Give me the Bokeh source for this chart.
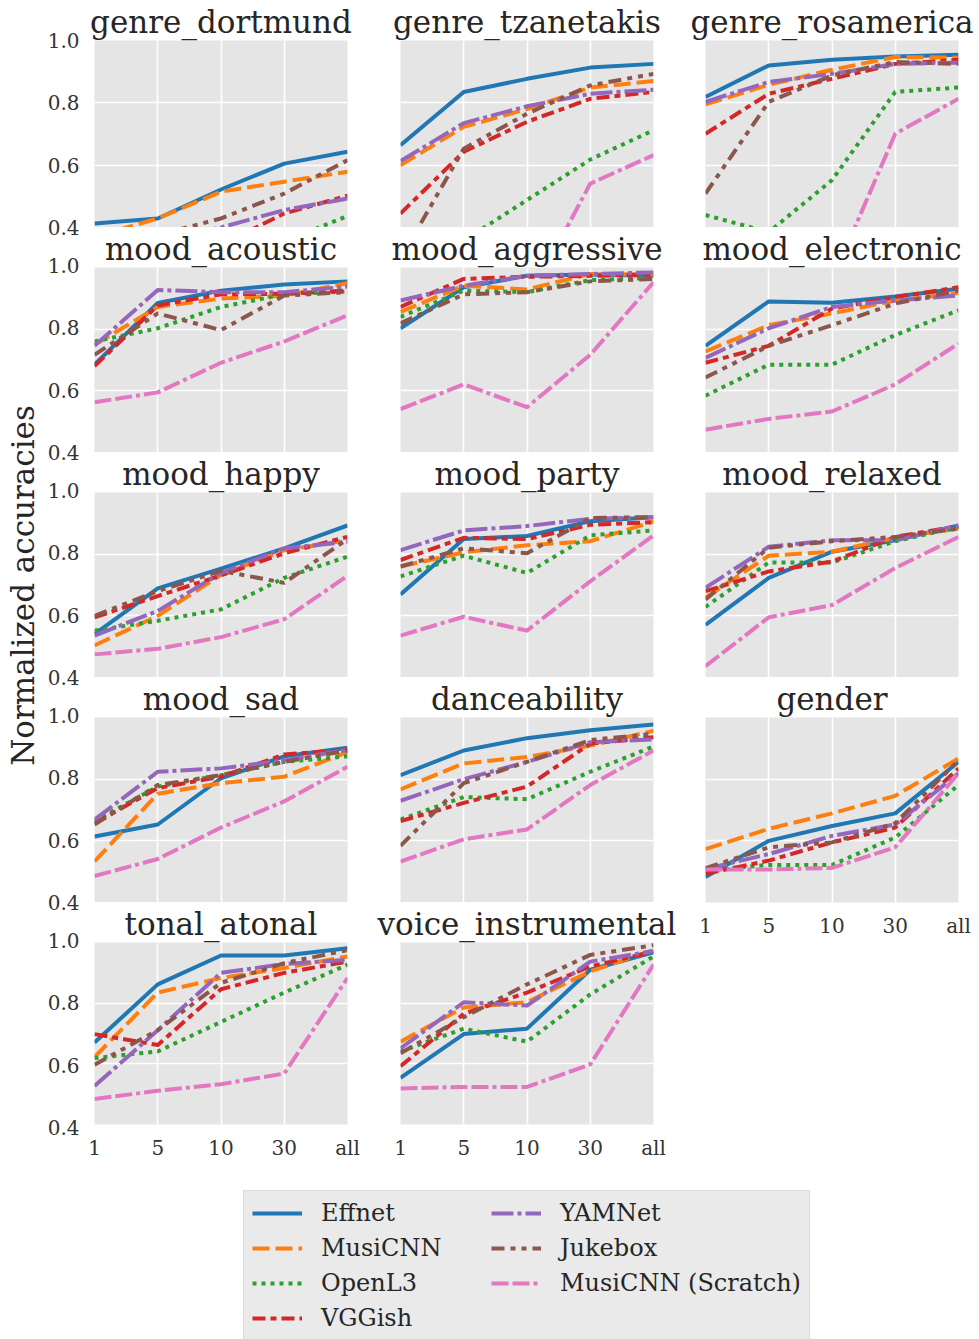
from math import pi
from bokeh.plotting import figure
from bokeh.models import Range1d, FixedTicker, Label, Legend, LegendItem
from bokeh.layouts import row, column
from bokeh.embed import file_html
from bokeh.resources import INLINE

x_labels = ["1", "5", "10", "30", "all"]
models = ["Effnet", "MusiCNN", "OpenL3", "VGGish", "YAMNet", "Jukebox", "MusiCNN (Scratch)"]
tasks = ["genre_dortmund", "genre_tzanetakis", "genre_rosamerica",
         "mood_acoustic", "mood_aggressive", "mood_electronic",
         "mood_happy", "mood_party", "mood_relaxed",
         "mood_sad", "danceability", "gender",
         "tonal_atonal", "voice_instrumental"]

genre_dortmund = {
    "Effnet": [0.413, 0.429, 0.522, 0.605, 0.643],
    "MusiCNN": [0.370, 0.429, 0.515, 0.547, 0.579],
    "OpenL3": [0.280, 0.300, 0.320, 0.355, 0.437],
    "VGGish": [0.300, 0.320, 0.345, 0.445, 0.502],
    "YAMNet": [0.330, 0.360, 0.400, 0.456, 0.493],
    "Jukebox": [0.330, 0.376, 0.429, 0.509, 0.616],
    "MusiCNN (Scratch)": [0.200, 0.220, 0.250, 0.300, 0.350],
}
genre_tzanetakis = {
    "Effnet": [0.664, 0.835, 0.877, 0.913, 0.925],
    "MusiCNN": [0.600, 0.723, 0.780, 0.849, 0.870],
    "OpenL3": [0.280, 0.358, 0.488, 0.618, 0.712],
    "VGGish": [0.445, 0.643, 0.739, 0.813, 0.835],
    "YAMNet": [0.613, 0.735, 0.789, 0.829, 0.842],
    "Jukebox": [0.300, 0.653, 0.765, 0.856, 0.893],
    "MusiCNN (Scratch)": [0.120, 0.140, 0.160, 0.541, 0.632],
}
genre_rosamerica = {
    "Effnet": [0.819, 0.920, 0.938, 0.949, 0.954],
    "MusiCNN": [0.795, 0.858, 0.906, 0.947, 0.945],
    "OpenL3": [0.440, 0.385, 0.552, 0.835, 0.849],
    "VGGish": [0.701, 0.829, 0.877, 0.925, 0.938],
    "YAMNet": [0.803, 0.867, 0.893, 0.925, 0.929],
    "Jukebox": [0.509, 0.803, 0.888, 0.931, 0.925],
    "MusiCNN (Scratch)": [0.180, 0.200, 0.230, 0.701, 0.813],
}
mood_acoustic = {
    "Effnet": [0.685, 0.885, 0.925, 0.945, 0.955],
    "MusiCNN": [0.749, 0.872, 0.899, 0.909, 0.949],
    "OpenL3": [0.760, 0.803, 0.872, 0.913, 0.922],
    "VGGish": [0.680, 0.877, 0.913, 0.915, 0.925],
    "YAMNet": [0.746, 0.927, 0.920, 0.920, 0.938],
    "Jukebox": [0.717, 0.851, 0.797, 0.909, 0.920],
    "MusiCNN (Scratch)": [0.563, 0.595, 0.691, 0.760, 0.845],
}
mood_aggressive = {
    "Effnet": [0.803, 0.936, 0.973, 0.977, 0.973],
    "MusiCNN": [0.856, 0.941, 0.929, 0.979, 0.977],
    "OpenL3": [0.840, 0.925, 0.920, 0.959, 0.966],
    "VGGish": [0.872, 0.963, 0.970, 0.973, 0.977],
    "YAMNet": [0.893, 0.941, 0.973, 0.979, 0.984],
    "Jukebox": [0.819, 0.913, 0.920, 0.955, 0.963],
    "MusiCNN (Scratch)": [0.541, 0.621, 0.547, 0.717, 0.952],
}
mood_electronic = {
    "Effnet": [0.746, 0.890, 0.886, 0.906, 0.931],
    "MusiCNN": [0.728, 0.813, 0.851, 0.893, 0.917],
    "OpenL3": [0.584, 0.685, 0.685, 0.781, 0.861],
    "VGGish": [0.691, 0.746, 0.867, 0.904, 0.936],
    "YAMNet": [0.707, 0.803, 0.872, 0.893, 0.909],
    "Jukebox": [0.643, 0.746, 0.813, 0.883, 0.925],
    "MusiCNN (Scratch)": [0.474, 0.509, 0.533, 0.621, 0.753],
}
mood_happy = {
    "Effnet": [0.541, 0.689, 0.753, 0.819, 0.893],
    "MusiCNN": [0.504, 0.600, 0.733, 0.813, 0.845],
    "OpenL3": [0.552, 0.584, 0.621, 0.723, 0.792],
    "VGGish": [0.595, 0.664, 0.731, 0.803, 0.856],
    "YAMNet": [0.536, 0.616, 0.739, 0.819, 0.840],
    "Jukebox": [0.600, 0.680, 0.746, 0.707, 0.849],
    "MusiCNN (Scratch)": [0.475, 0.493, 0.531, 0.589, 0.730],
}
mood_party = {
    "Effnet": [0.669, 0.849, 0.859, 0.907, 0.920],
    "MusiCNN": [0.760, 0.806, 0.829, 0.842, 0.906],
    "OpenL3": [0.728, 0.795, 0.739, 0.861, 0.877],
    "VGGish": [0.781, 0.853, 0.849, 0.895, 0.904],
    "YAMNet": [0.813, 0.877, 0.891, 0.915, 0.920],
    "Jukebox": [0.760, 0.819, 0.803, 0.917, 0.920],
    "MusiCNN (Scratch)": [0.536, 0.597, 0.552, 0.712, 0.861],
}
mood_relaxed = {
    "Effnet": [0.571, 0.723, 0.808, 0.845, 0.893],
    "MusiCNN": [0.659, 0.795, 0.808, 0.853, 0.883],
    "OpenL3": [0.629, 0.773, 0.773, 0.842, 0.888],
    "VGGish": [0.680, 0.744, 0.776, 0.856, 0.891],
    "YAMNet": [0.691, 0.824, 0.845, 0.845, 0.893],
    "Jukebox": [0.653, 0.821, 0.842, 0.856, 0.883],
    "MusiCNN (Scratch)": [0.437, 0.595, 0.635, 0.755, 0.856],
}
mood_sad = {
    "Effnet": [0.614, 0.653, 0.803, 0.874, 0.902],
    "MusiCNN": [0.533, 0.753, 0.787, 0.808, 0.888],
    "OpenL3": [0.664, 0.776, 0.813, 0.856, 0.874],
    "VGGish": [0.657, 0.771, 0.808, 0.880, 0.895],
    "YAMNet": [0.669, 0.824, 0.835, 0.861, 0.895],
    "Jukebox": [0.653, 0.781, 0.813, 0.856, 0.893],
    "MusiCNN (Scratch)": [0.486, 0.541, 0.643, 0.728, 0.840],
}
danceability = {
    "Effnet": [0.813, 0.893, 0.933, 0.959, 0.977],
    "MusiCNN": [0.767, 0.851, 0.872, 0.909, 0.957],
    "OpenL3": [0.669, 0.742, 0.735, 0.824, 0.906],
    "VGGish": [0.664, 0.723, 0.776, 0.915, 0.936],
    "YAMNet": [0.730, 0.800, 0.856, 0.920, 0.929],
    "Jukebox": [0.584, 0.787, 0.856, 0.927, 0.947],
    "MusiCNN (Scratch)": [0.533, 0.605, 0.637, 0.781, 0.893],
}
gender = {
    "Effnet": [0.483, 0.600, 0.648, 0.689, 0.856],
    "MusiCNN": [0.573, 0.639, 0.689, 0.746, 0.867],
    "OpenL3": [0.504, 0.522, 0.522, 0.611, 0.781],
    "VGGish": [0.493, 0.536, 0.595, 0.643, 0.835],
    "YAMNet": [0.509, 0.557, 0.616, 0.653, 0.819],
    "Jukebox": [0.511, 0.579, 0.595, 0.657, 0.861],
    "MusiCNN (Scratch)": [0.507, 0.507, 0.512, 0.579, 0.819],
}
tonal_atonal = {
    "Effnet": [0.670, 0.862, 0.957, 0.957, 0.981],
    "MusiCNN": [0.622, 0.835, 0.883, 0.916, 0.954],
    "OpenL3": [0.619, 0.641, 0.738, 0.835, 0.927],
    "VGGish": [0.698, 0.662, 0.846, 0.900, 0.937],
    "YAMNet": [0.527, 0.711, 0.900, 0.929, 0.943],
    "Jukebox": [0.597, 0.711, 0.867, 0.932, 0.975],
    "MusiCNN (Scratch)": [0.484, 0.511, 0.533, 0.568, 0.883],
}
voice_instrumental = {
    "Effnet": [0.554, 0.698, 0.716, 0.910, 0.968],
    "MusiCNN": [0.673, 0.786, 0.803, 0.905, 0.975],
    "OpenL3": [0.641, 0.716, 0.673, 0.829, 0.954],
    "VGGish": [0.592, 0.765, 0.835, 0.921, 0.970],
    "YAMNet": [0.651, 0.803, 0.792, 0.937, 0.972],
    "Jukebox": [0.635, 0.754, 0.862, 0.959, 0.991],
    "MusiCNN (Scratch)": [0.519, 0.524, 0.524, 0.598, 0.927],
}
y_ticks = [0.4, 0.6, 0.8, 1.0]

task_data = [genre_dortmund, genre_tzanetakis, genre_rosamerica,
             mood_acoustic, mood_aggressive, mood_electronic,
             mood_happy, mood_party, mood_relaxed,
             mood_sad, danceability, gender,
             tonal_atonal, voice_instrumental]

# styles
colors = ["#1f77b4", "#ff7f0e", "#2ca02c", "#d62728", "#9467bd", "#8c564b", "#e377c2"]
dashes = ["solid", "17 6", "4 5", "13 5 6 5", "22 4 4 4", "13 6 5 6 5 6", "17 4 17 4 4 4"]
FONT = "DejaVu Serif"
LW = 4
FRAME_W, FRAME_H = 253, 187
col_borders = [(10, 20), (33, 25), (27, 21)]
TOTAL_H = 1162
TICK_FS = "20px"
TICK_COLOR = "#333333"

xs = list(range(len(x_labels)))
bottom_idx = {12: 35, 13: 35, 11: 260}

cols = [[], [], []]
for i, (name, data) in enumerate(zip(tasks, task_data)):
    r, c = divmod(i, 3)
    top = 40 if r == 0 else 38
    bot = bottom_idx.get(i, 0)
    bl, br = col_borders[c]
    p = figure(width=bl + FRAME_W + br, height=top + FRAME_H + bot,
               x_range=Range1d(0, len(x_labels) - 1), y_range=Range1d(y_ticks[0], y_ticks[-1]),
               output_backend="svg", toolbar_location=None, title=name,
               min_border_left=bl, min_border_right=br, min_border_top=top,
               min_border_bottom=bot)
    p.title.align = "center"
    p.title.text_font = FONT
    p.title.text_font_size = "31px"
    p.title.text_font_style = "normal"
    p.title.text_color = "#262626"
    p.title.standoff = 2
    p.background_fill_color = "#e5e5e5"
    p.border_fill_color = "white"
    p.outline_line_color = None
    p.xaxis.ticker = FixedTicker(ticks=xs)
    p.xaxis.major_label_overrides = {k: lab for k, lab in zip(xs, x_labels)}
    ax = p.xaxis[0]
    ax.axis_line_color = None
    ax.major_tick_line_color = None
    ax.minor_tick_line_color = None
    ax.major_tick_out = 0
    ax.major_tick_in = 0
    ax.major_label_text_font = FONT
    ax.major_label_text_font_size = TICK_FS
    ax.major_label_text_color = TICK_COLOR
    ax.major_label_standoff = 11
    p.yaxis.visible = False
    p.xgrid.ticker = FixedTicker(ticks=xs)
    p.ygrid.ticker = FixedTicker(ticks=y_ticks)
    for g in (p.xgrid[0], p.ygrid[0]):
        g.grid_line_color = "white"
        g.grid_line_width = 1.6
    if i not in bottom_idx:
        p.xaxis.visible = False
    for m, col, d in zip(models, colors, dashes):
        p.line(xs, data[m], line_color=col, line_width=LW, line_dash=d, line_join="round")
    cols[c].append(p)

# y tick-label strip for the first column (axis-only figures)
axis_figs = []
n_rows = len(cols[0])
for r in range(n_rows):
    top = 40 if r == 0 else 19
    bot = 35 if r == n_rows - 1 else 19
    a = figure(width=39, height=top + FRAME_H + bot, x_range=Range1d(0, 1),
               y_range=Range1d(y_ticks[0], y_ticks[-1]), x_axis_type=None,
               output_backend="svg", toolbar_location=None,
               min_border_left=38, min_border_right=0, min_border_top=top,
               min_border_bottom=bot, outline_line_color=None)
    a.ygrid.visible = False
    a.background_fill_color = "white"
    a.yaxis.ticker = FixedTicker(ticks=y_ticks)
    a.yaxis.major_label_overrides = {v: f"{v:.1f}" for v in y_ticks}
    ya = a.yaxis[0]
    ya.axis_line_color = None
    ya.major_tick_line_color = None
    ya.minor_tick_line_color = None
    ya.major_tick_out = 0
    ya.major_tick_in = 0
    ya.major_label_text_font = FONT
    ya.major_label_text_font_size = TICK_FS
    ya.major_label_text_color = TICK_COLOR
    ya.major_label_standoff = 5
    axis_figs.append(a)

# y label figure
yl = figure(width=45, height=TOTAL_H, x_range=Range1d(0, 1), y_range=Range1d(0, 1),
            x_axis_type=None, y_axis_type=None, output_backend="svg", toolbar_location=None,
            min_border=0, outline_line_color=None)
yl.add_layout(Label(x=22, y=TOTAL_H - 585, x_units="screen", y_units="screen",
                    text="Normalized accuracies", angle=pi / 2, text_align="center",
                    text_baseline="middle", text_font=FONT, text_font_size="31px",
                    text_color="#262626"))

# legend figure (its lines lie outside the visible range; only legend glyphs show)
LEG_H = 1339 - TOTAL_H
lf = figure(width=979, height=LEG_H, x_range=Range1d(0, 1), y_range=Range1d(10, 11),
            x_axis_type=None, y_axis_type=None, output_backend="svg", toolbar_location=None,
            min_border=0, outline_line_color=None)
items = []
for m, col, d in zip(models, colors, dashes):
    rr = lf.line(x=xs, y=genre_dortmund[m], line_color=col, line_width=LW, line_dash=d)
    items.append(LegendItem(label=m, renderers=[rr]))
leg = Legend(items=items, location=(243, -2), nrows=4, orientation="vertical",
             background_fill_color="#eaeaea", background_fill_alpha=1.0,
             border_line_color="#cccccc", border_line_width=1,
             label_text_font=FONT, label_text_font_size="24px", label_text_color="#262626",
             glyph_width=50, glyph_height=28, label_height=28, label_width=163,
             label_standoff=19, spacing=7, padding=8, margin=0)
lf.add_layout(leg, "center")

layout = column(row(yl, column(*axis_figs), column(*cols[0]), column(*cols[1]), column(*cols[2])), lf)
open("out.html", "w").write(file_html(layout, INLINE))
